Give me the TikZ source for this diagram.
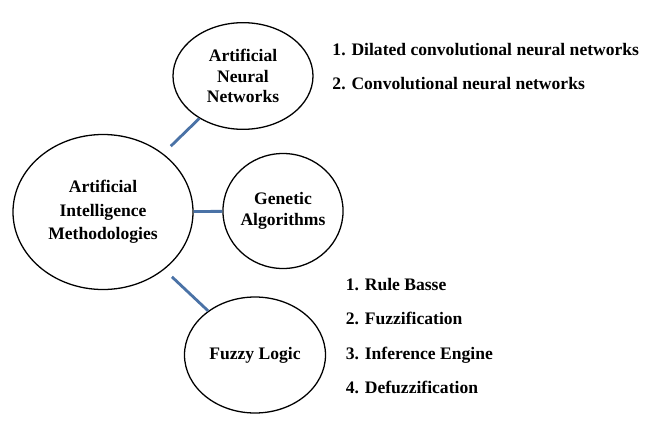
\documentclass[tikz,border=0pt]{standalone}
\usepackage{fontspec}
\setmainfont{Liberation Serif}
\usepackage{xcolor}
\usetikzlibrary{shapes.geometric}
\definecolor{linkblue}{HTML}{4A72A6}

\begin{document}
\begin{tikzpicture}[font=\fontsize{15}{17.5}\selectfont\bfseries,
    method/.style={draw,ellipse,line width=1.1pt,inner sep=0pt,align=center},
    link/.style={linkblue,line width=2.4pt},
    items/.style={anchor=west,align=left,font=\fontsize{15}{29.5}\selectfont\bfseries}]
    \useasboundingbox (0,0) rectangle (19.41,12.69);
    \node[method,minimum width=5.4cm,minimum height=4.65cm,
      font=\fontsize{15}{20}\selectfont\bfseries] (ai) at (3.09,6.33)
      {Artificial\\Intelligence\\Methodologies};
    \node[method,minimum width=4.2cm,minimum height=3.2cm] (ann) at (7.29,10.41)
      {Artificial\\Neural\\Networks};
    \node[method,minimum width=3.3cm,minimum height=3.45cm] (ga) at (8.49,6.36)
      {Genetic\\Algorithms};
    \node[method,minimum width=4.23cm,minimum height=3.48cm] (fl) at (7.65,2.04)
      {Fuzzy Logic};

    \draw[link,shorten <=9pt] (ai) -- (ann);
    \draw[link] (ai) -- (ga);
    \draw[link,shorten <=9pt] (ai) -- (fl);

    \node[items,font=\fontsize{15}{29}\selectfont\bfseries] (annlist) at (9.85,10.68)
      {1. Dilated convolutional neural networks\\2. Convolutional neural networks};
    \node[items] (fllist) at (10.25,2.61)
      {1. Rule Basse\\2. Fuzzification\\3. Inference Engine\\4. Defuzzification};
  \end{tikzpicture}
\end{document}
